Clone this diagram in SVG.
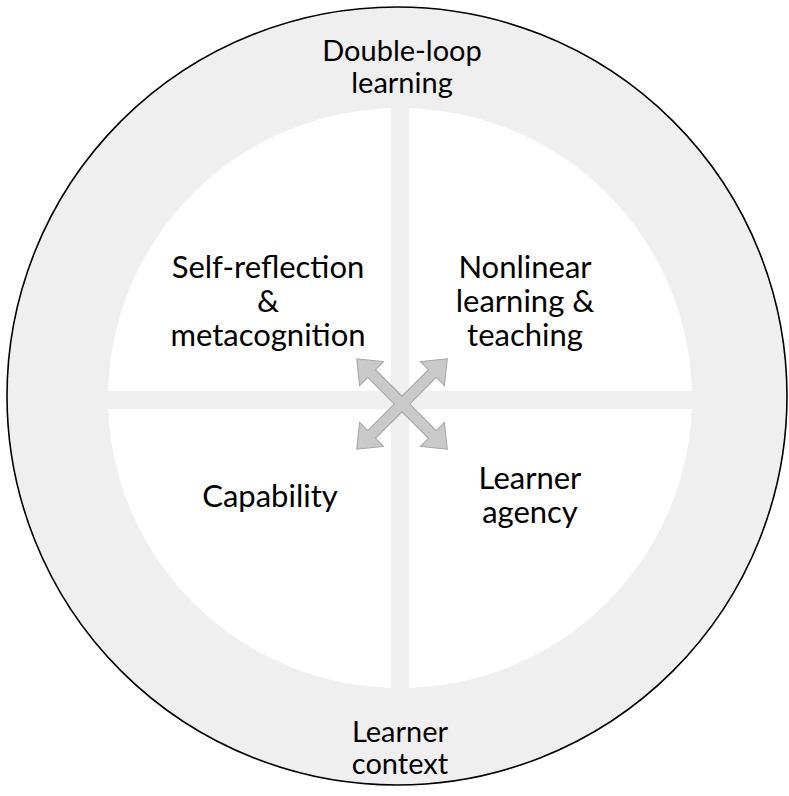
<svg xmlns="http://www.w3.org/2000/svg" width="789" height="796" viewBox="0 0 789 796">
<style>
text{font-family:"Lato","Liberation Sans",sans-serif;font-size:31px;fill:#000;text-anchor:middle}
text.sm{font-size:29px}
.ring{fill:#efefef;stroke:#000;stroke-width:1.6}
.bar{fill:#efefef}
.arrow{fill:#c9c9c9;stroke:#a3a3a3;stroke-width:1}
</style>
<rect width="789" height="796" fill="#fff"/>
<g id="outer">
<ellipse class="ring" cx="397" cy="396" rx="390" ry="389"/>
<ellipse cx="400" cy="398" rx="292" ry="290" fill="#fff"/>
<rect class="bar" x="391" y="100" width="18" height="600"/>
<rect class="bar" x="100" y="391" width="600" height="18"/>
</g>
<g id="double-loop"><text class="sm" x="402" y="61">Double-loop</text><text class="sm" x="402" y="93">learning</text></g>
<g id="learner-context"><text class="sm" x="400" y="742">Learner</text><text class="sm" x="400" y="774">context</text></g>
<g id="self-reflection"><text x="268" y="278">Self-reflection</text><text x="268" y="312">&amp;</text><text x="268" y="346">metacognition</text></g>
<g id="nonlinear"><text x="525" y="278">Nonlinear</text><text x="525" y="312">learning &amp;</text><text x="525" y="346">teaching</text></g>
<g id="capability"><text x="270" y="507">Capability</text></g>
<g id="learner-agency"><text x="530" y="489">Learner</text><text x="530" y="523">agency</text></g>
<g id="connectors">
<polygon class="arrow" transform="translate(402,404) rotate(45)" points="5.5,-5.5 43,-5.5 43,-17 64,0 43,17 43,5.5 5.5,5.5 5.5,43 17,43 0,64 -17,43 -5.5,43 -5.5,5.5 -43,5.5 -43,17 -64,0 -43,-17 -43,-5.5 -5.5,-5.5 -5.5,-43 -17,-43 0,-64 17,-43 5.5,-43"/>
</g>
</svg>
